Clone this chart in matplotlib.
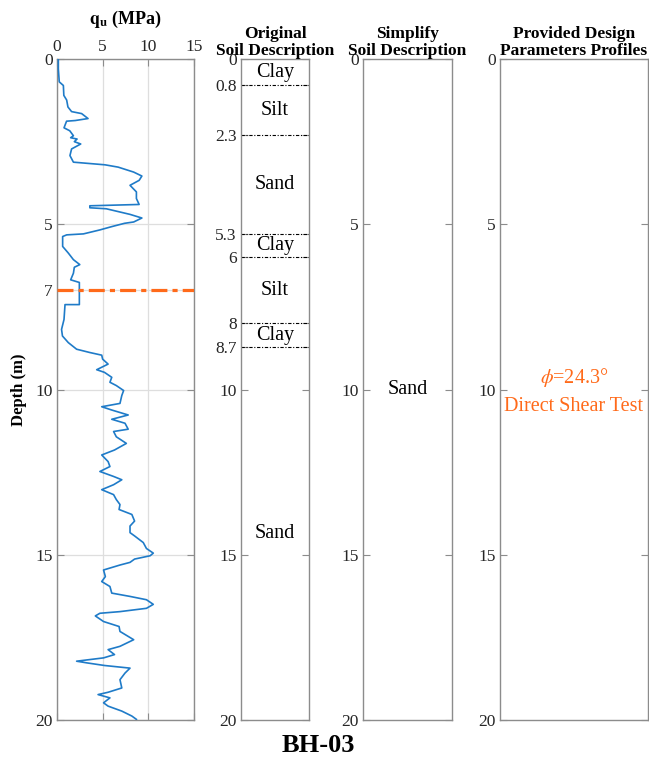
import matplotlib.pyplot as plt

plt.rcParams['font.family'] = 'Liberation Serif'
plt.rcParams['mathtext.fontset'] = 'stix'

# CPT cone resistance profile, BH-03
depth = [0.00, 0.30, 0.69, 0.80, 1.10, 1.24, 1.45, 1.59, 1.65, 1.80, 1.86, 1.88,
         2.08, 2.17, 2.32, 2.38, 2.42, 2.50, 2.57, 2.72, 2.92, 3.12, 3.20, 3.27,
         3.42, 3.54, 3.67, 3.82, 4.02, 4.22, 4.40, 4.44, 4.50, 4.53, 4.63, 4.70,
         4.81, 4.93, 4.97, 5.07, 5.17, 5.29, 5.32, 5.37, 5.67, 5.87, 6.07, 6.22,
         6.30, 6.48, 6.68, 6.76, 7.43, 7.43, 7.88, 8.18, 8.38, 8.58, 8.78, 8.88,
         8.96, 9.08, 9.23, 9.40, 9.48, 9.63, 9.78, 9.88, 10.03, 10.18, 10.42, 10.52,
         10.62, 10.77, 10.90, 11.02, 11.20, 11.27, 11.43, 11.63, 11.83, 11.98, 12.18, 12.33,
         12.48, 12.63, 12.73, 12.88, 13.03, 13.18, 13.33, 13.48, 13.63, 13.78, 13.98, 14.13,
         14.33, 14.43, 14.63, 14.81, 14.95, 15.03, 15.13, 15.23, 15.31, 15.46, 15.66, 15.81,
         15.96, 16.16, 16.26, 16.36, 16.50, 16.62, 16.72, 16.77, 16.85, 17.02, 17.17, 17.32,
         17.57, 17.77, 17.87, 18.02, 18.12, 18.22, 18.27, 18.35, 18.40, 18.43, 18.58, 18.78,
         19.03, 19.16, 19.23, 19.33, 19.48, 19.58, 19.73, 19.88, 19.98]
qu = [0.15, 0.15, 0.25, 0.70, 0.75, 1.06, 1.20, 1.60, 2.70, 3.40, 2.00, 1.05,
      0.77, 1.40, 1.80, 1.50, 2.20, 1.90, 2.60, 1.60, 1.42, 1.80, 5.26, 6.70,
      8.40, 9.30, 9.00, 8.00, 8.70, 8.70, 9.00, 3.60, 3.60, 5.40, 6.90, 8.00,
      9.30, 8.40, 7.40, 6.00, 4.70, 2.90, 1.06, 0.62, 0.62, 1.24, 1.80, 2.50,
      1.90, 1.80, 1.50, 2.45, 2.45, 0.88, 0.77, 0.50, 0.60, 1.24, 2.15, 3.60,
      4.90, 5.00, 5.60, 4.35, 5.20, 6.00, 5.80, 6.50, 7.30, 7.10, 6.90, 4.90,
      6.00, 7.80, 6.00, 7.45, 7.80, 6.20, 6.50, 7.60, 6.30, 4.90, 5.60, 5.80,
      4.70, 6.20, 7.10, 6.20, 4.90, 6.20, 6.50, 6.90, 6.80, 8.20, 8.50, 8.00,
      8.00, 8.50, 9.45, 9.80, 10.55, 10.20, 8.50, 8.00, 6.90, 5.10, 5.30, 4.90,
      5.80, 6.00, 8.00, 9.80, 10.55, 9.80, 6.90, 4.70, 4.20, 5.10, 6.80, 6.90,
      8.40, 6.90, 5.60, 6.30, 5.10, 2.15, 3.25, 5.20, 6.90, 8.00, 7.45, 6.90,
      7.10, 5.60, 4.50, 5.80, 5.10, 5.60, 7.10, 8.20, 8.70]

water_table = 7

# original borehole log
layer_tops = [0, 0.8, 2.3, 5.3, 6, 8, 8.7]
layer_bots = [0.8, 2.3, 5.3, 6, 8, 8.7, 20]
layer_soil = ['Clay', 'Silt', 'Sand', 'Clay', 'Silt', 'Clay', 'Sand']

simple_soil = 'Sand'
phi = 24.3
phi_source = 'Direct Shear Test'

spine_col = '#8c8c8c'
tick_col = '#262626'
orange = '#FF6A1A'
blue = '#1f7bc8'

fig = plt.figure(figsize=(6.49, 7.65), dpi=100)
bottom, height = 0.0588, 0.864
ax1 = fig.add_axes([0.0878, bottom, 0.211, height])
ax2 = fig.add_axes([0.3713, bottom, 0.1048, height])
ax3 = fig.add_axes([0.5593, bottom, 0.1371, height])
ax4 = fig.add_axes([0.7704, bottom, 0.228, height])

for ax in (ax1, ax2, ax3, ax4):
    ax.set_ylim(20, 0)
    for s in ax.spines.values():
        s.set_color(spine_col)
        s.set_linewidth(1.0)
    ax.tick_params(direction='in', length=5, width=0.8, color=spine_col,
                   labelcolor=tick_col, labelsize=12.5, right=True, pad=3)

# cone resistance
ax1.plot(qu, depth, color=blue, lw=1.2, zorder=3)
ax1.axhline(water_table, color=orange, lw=2.3, ls=(0, (5, 1.6, 1.6, 1.6)), zorder=4)
ax1.set_xlim(0, 15)
ax1.set_xticks([0, 5, 10, 15])
ax1.set_yticks([0, 5, 7, 10, 15, 20])
ax1.xaxis.tick_top()
ax1.tick_params(axis='x', top=True, bottom=True, pad=3)
ax1.xaxis.set_label_position('top')
ax1.set_xlabel(r'$\mathbf{q_u}$ (MPa)', fontsize=13, fontweight='bold', labelpad=11)
ax1.set_ylabel('Depth (m)', fontsize=12, fontweight='bold', labelpad=6)
ax1.grid(True, color='#dedede', lw=0.9, zorder=0)
ax1.set_axisbelow(True)

# original soil log
ax2.set_xlim(0, 1)
ax2.set_xticks([])
ax2.set_yticks(layer_tops + [10, 15, 20])
ax2.set_yticklabels(['0', '0.8', '2.3', '5.3', '6', '8', '8.7', '10', '15', '20'])
for top, bot, soil in zip(layer_tops, layer_bots, layer_soil):
    if top > 0:
        ax2.axhline(top, color='black', lw=0.8, ls=(0, (3, 1.5, 1, 1.5)))
    ax2.text(0.5, (top + bot) / 2, soil, ha='center', va='center', fontsize=14.5)

title_kw = dict(fontsize=12.5, fontweight='bold', pad=3, linespacing=1.05)
ax2.set_title('Original\nSoil Description', **title_kw)

# simplified soil log
ax3.set_xlim(0, 1)
ax3.set_xticks([])
ax3.set_yticks([0, 5, 10, 15, 20])
ax3.text(0.5, 10, simple_soil, ha='center', va='center', fontsize=14.5)
ax3.set_title('Simplify\nSoil Description', **title_kw)

# design parameters
ax4.set_xlim(0, 1)
ax4.set_xticks([])
ax4.set_yticks([0, 5, 10, 15, 20])
ax4.text(0.5, 9.65, r'$\it{\phi}$=%.1f°' % phi, ha='center', va='center',
         fontsize=14.5, color=orange)
ax4.text(0.5, 10.5, phi_source, ha='center', va='center', fontsize=14.5, color=orange)
ax4.set_title('Provided Design\nParameters Profiles', **title_kw)

fig.text(0.49, 0.026, 'BH-03', ha='center', va='center', fontsize=19, fontweight='bold')

fig.savefig('out.png', dpi=100)
